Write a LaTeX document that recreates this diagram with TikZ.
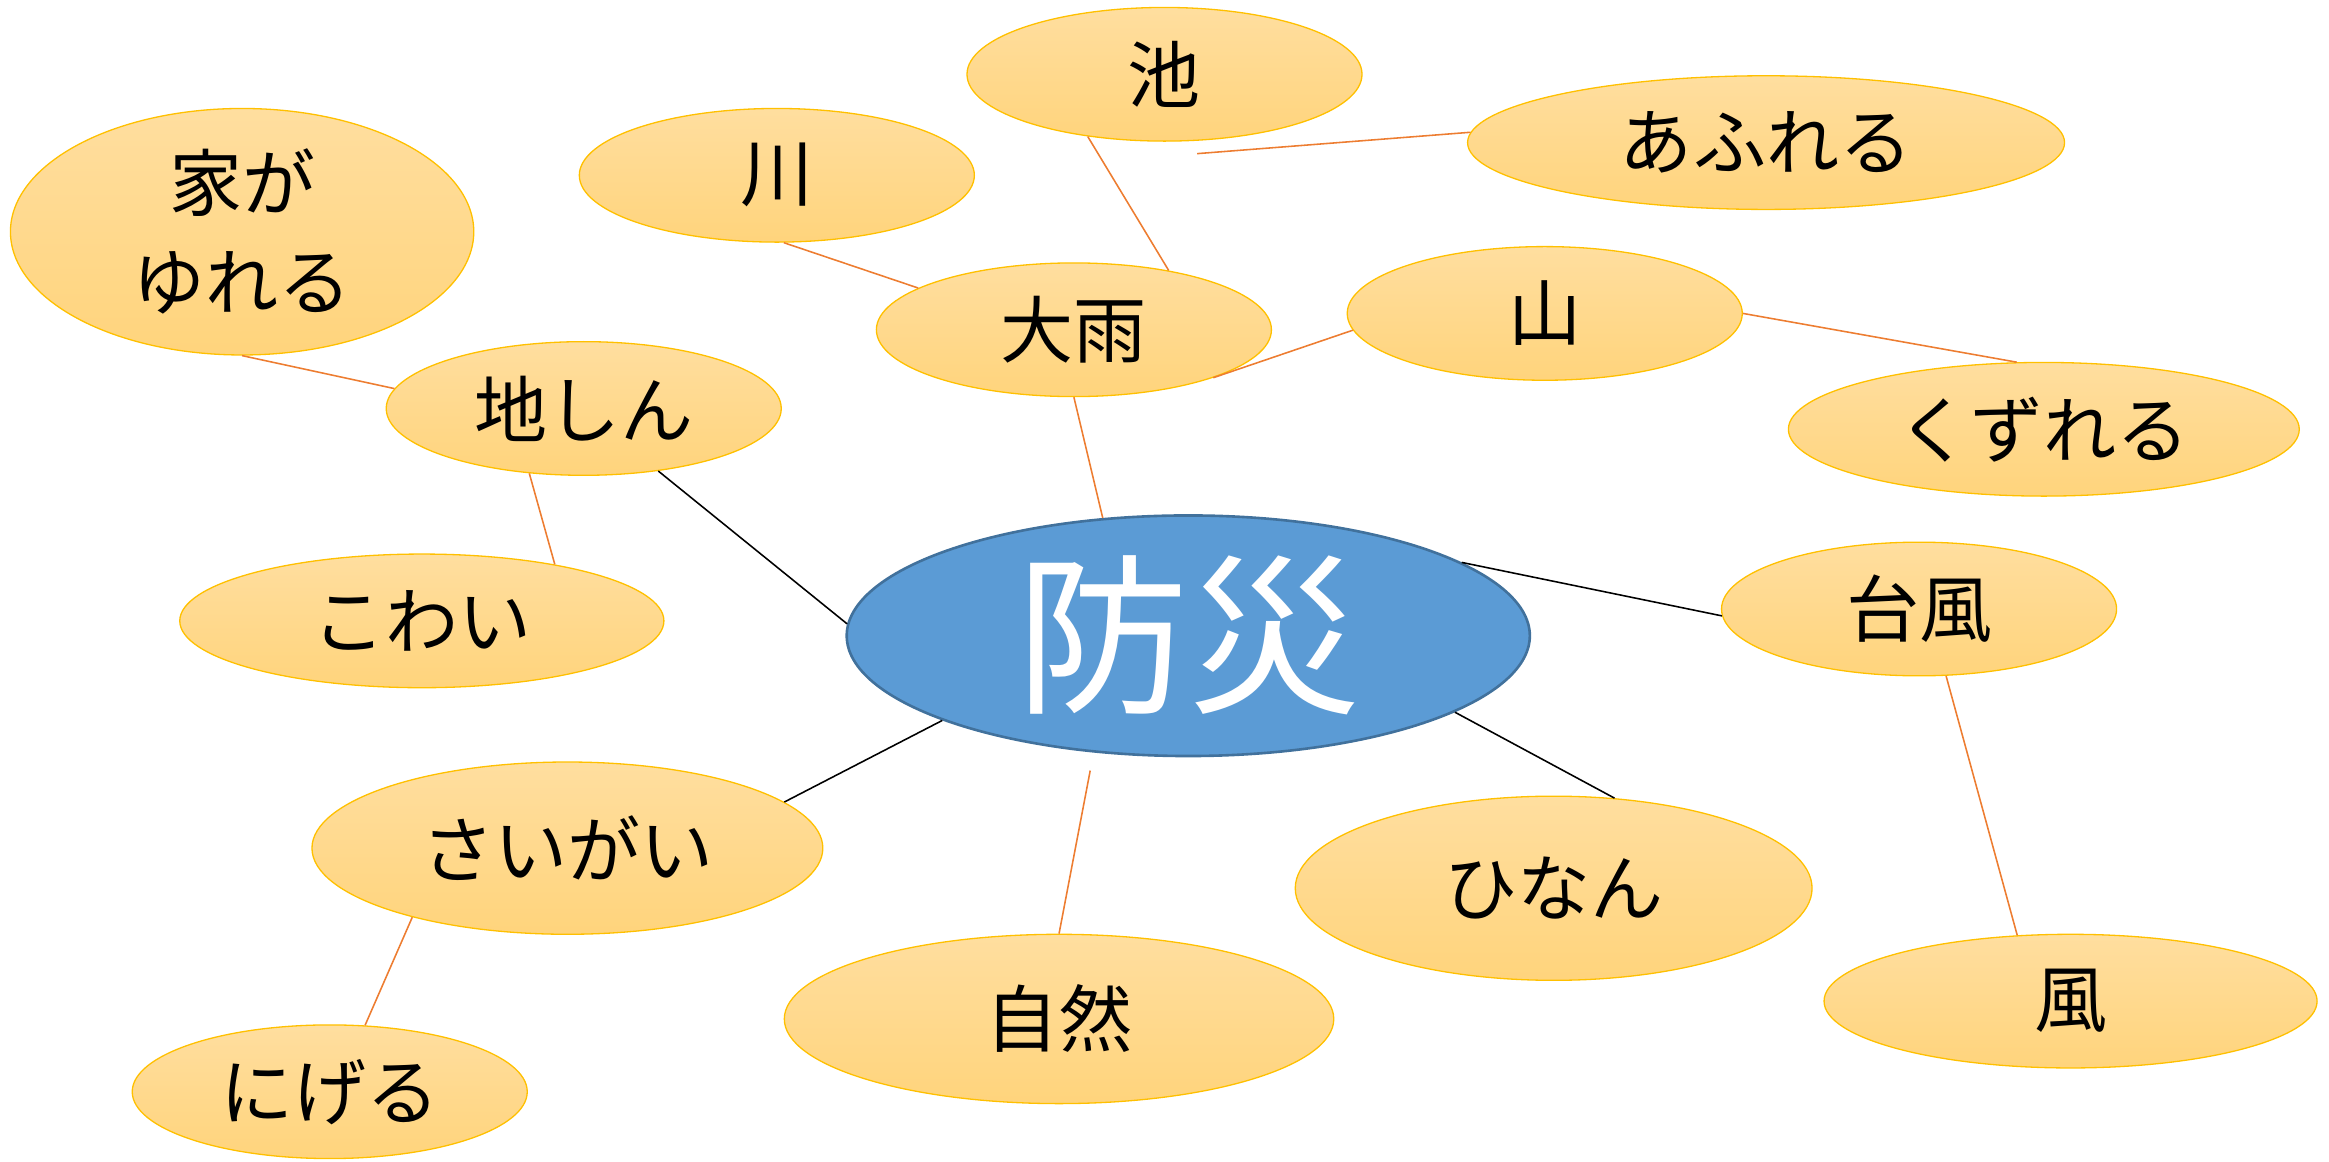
\documentclass[tikz,border=0pt]{standalone}
\usepackage{fontspec}
\newfontfamily\jp{Noto Sans CJK JP}
\usetikzlibrary{shapes.geometric,calc}
\definecolor{ovtop}{HTML}{FFDE9F}
\definecolor{ovbot}{HTML}{FFD47C}
\definecolor{ovline}{HTML}{FFC000}
\definecolor{bluefill}{HTML}{5B9BD5}
\definecolor{blueline}{HTML}{41719C}
\definecolor{orline}{HTML}{ED7D31}
\tikzset{
  oval/.style={ellipse, draw=ovline, line width=0.5pt, top color=ovtop, bottom color=ovbot,
    inner sep=0pt, font=\jp\fontsize{28}{38}\selectfont, text=black, align=center},
  hub/.style={ellipse, draw=blueline, line width=1pt, fill=bluefill, inner sep=0pt,
    font=\jp\fontsize{66}{70}\selectfont, text=white},
  olink/.style={draw=orline, line width=0.6pt},
  blink/.style={draw=black, line width=0.6pt}
}
\begin{document}
\begin{tikzpicture}[x=0.02cm,y=0.02cm]
\useasboundingbox (0,0) rectangle (1568,-782);
% nodes
\node[hub, minimum width=9.2cm, minimum height=3.24cm] (bousai) at (800,-428) {防災};
\node[oval, minimum width=5.32cm, minimum height=1.8cm] (ike) at (784,-50) {池};
\node[oval, minimum width=8.04cm, minimum height=1.8cm] (afureru) at (1189,-96) {あふれる};
\node[oval, minimum width=5.32cm, minimum height=1.8cm] (kawa) at (523,-118) {川};
\node[oval, minimum width=6.24cm, minimum height=3.32cm, inner sep=-0.4cm] (ie) at (163,-156) {家が\\ゆれる};
\node[oval, minimum width=5.32cm, minimum height=1.8cm] (ooame) at (723,-222) {大雨};
\node[oval, minimum width=5.32cm, minimum height=1.8cm] (yama) at (1040,-211) {山};
\node[oval, minimum width=5.32cm, minimum height=1.8cm] (jishin) at (393,-275) {地しん};
\node[oval, minimum width=6.88cm, minimum height=1.8cm] (kuzureru) at (1376,-289) {くずれる};
\node[oval, minimum width=5.32cm, minimum height=1.8cm] (taifu) at (1292,-410) {台風};
\node[oval, minimum width=6.52cm, minimum height=1.8cm] (kowai) at (284,-418) {こわい};
\node[oval, minimum width=6.88cm, minimum height=2.32cm] (saigai) at (382,-571) {さいがい};
\node[oval, minimum width=6.96cm, minimum height=2.48cm] (hinan) at (1046,-598) {ひなん};
\node[oval, minimum width=7.4cm, minimum height=2.28cm] (shizen) at (713,-686) {自然};
\node[oval, minimum width=6.64cm, minimum height=1.8cm] (kaze) at (1394,-674) {風};
\node[oval, minimum width=5.32cm, minimum height=1.8cm] (nigeru) at (222,-735) {にげる};
% orange connectors
\draw[olink] (ike.-141) -- (ooame.32);
\draw[olink] ($(ike.south)+(22,-8)$) -- (afureru.178);
\draw[olink] (kawa.-84) -- (ooame.165);
\draw[olink] (ooame.-19) -- (yama.185);
\draw[olink] (ooame.-90) -- (bousai.126);
\draw[olink] (ie.-90) -- (jishin.174);
\draw[olink] (jishin.-130) -- (kowai.23);
\draw[olink] (yama.0) -- (kuzureru.112);
\draw[olink] (taifu.-68) -- (kaze.129);
\draw[olink, shorten >=7pt] (shizen.90) -- (bousai.-129);
\draw[olink] (saigai.204) -- (nigeru.62);
% black connectors
\draw[blink] (jishin.-40) -- (bousai.178);
\draw[blink] (bousai.15) -- (taifu.182);
\draw[blink] (bousai.199) -- (saigai.12);
\draw[blink] (bousai.-16) -- (hinan.56);
\end{tikzpicture}
\end{document}
